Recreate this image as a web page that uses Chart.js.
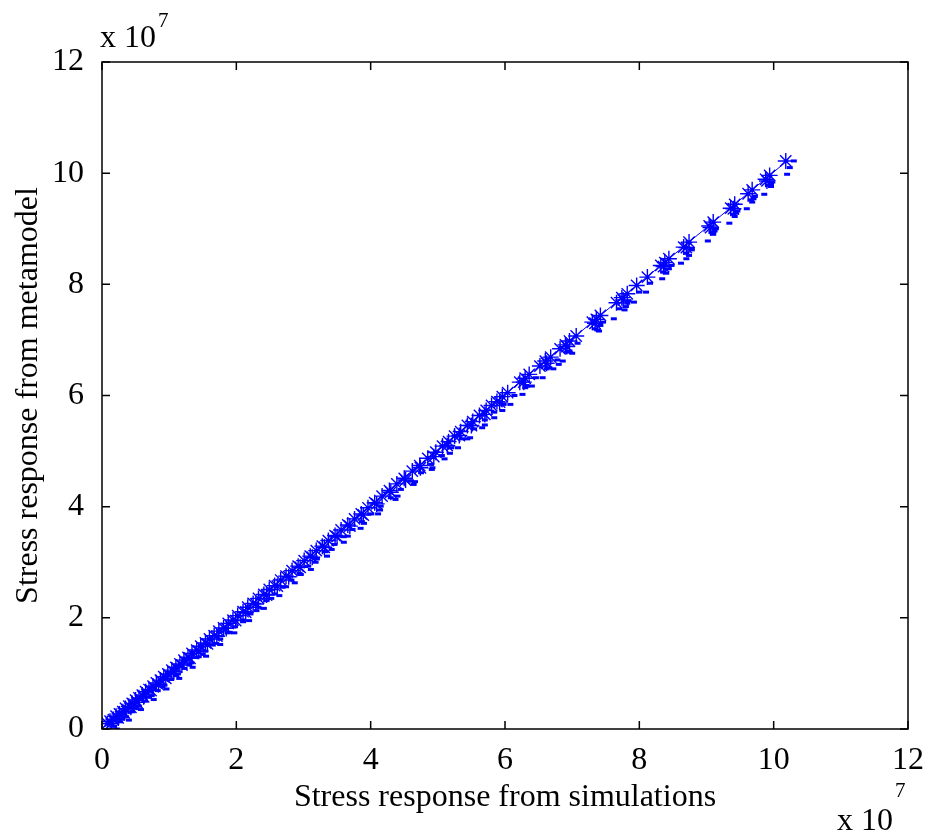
<!DOCTYPE html>
<html>
<head>
<meta charset="utf-8">
<script src="https://cdn.jsdelivr.net/npm/chart.js@4/dist/chart.umd.min.js"></script>
<style>
  html, body { margin: 0; padding: 0; background: #fff; }
  #plot { display: block; }
</style>
</head>
<body>
<canvas id="plot" width="927" height="833"></canvas>
<script>
// --- Data (values in units of 1e7) ---
const axisTicks = [0, 2, 4, 6, 8, 10, 12];

// asterisk markers: simulation vs metamodel
const starSim = [0.08,0.12,0.17,0.21,0.26,0.31,0.35,0.40,0.45,0.50,
  0.55,0.60,0.65,0.70,0.76,0.81,0.87,0.92,0.98,1.04,
  1.10,1.16,1.22,1.28,1.34,1.41,1.47,1.54,1.60,1.67,
  1.74,1.81,1.88,1.95,2.02,2.10,2.17,2.25,2.33,2.41,
  2.49,2.57,2.66,2.74,2.83,2.92,3.01,3.10,3.19,3.28,
  3.37,3.47,3.56,3.66,3.76,3.86,3.96,4.06,4.17,4.28,
  4.39,4.50,4.62,4.73,4.85,4.97,5.07,5.16,5.25,5.34,
  5.44,5.52,5.62,5.72,5.80,5.88,5.96,6.04,6.22,6.30,
  6.36,6.52,6.60,6.68,6.82,6.90,6.96,7.06,7.30,7.36,
  7.42,7.66,7.74,7.82,7.96,8.12,8.32,8.38,8.44,8.66,
  8.74,9.04,9.10,9.36,9.42,9.62,9.68,9.88,9.94,10.18];
const starMeta = [0.10,0.14,0.17,0.23,0.27,0.31,0.37,0.41,0.46,0.52,
  0.56,0.61,0.67,0.71,0.77,0.83,0.88,0.94,0.99,1.06,
  1.11,1.17,1.24,1.29,1.36,1.42,1.49,1.55,1.62,1.68,
  1.76,1.82,1.90,1.96,2.04,2.11,2.19,2.26,2.35,2.42,
  2.51,2.58,2.68,2.75,2.85,2.93,3.03,3.11,3.21,3.29,
  3.39,3.48,3.58,3.67,3.78,3.87,3.98,4.07,4.19,4.29,
  4.41,4.51,4.64,4.74,4.87,4.98,5.09,5.17,5.27,5.35,
  5.46,5.53,5.64,5.73,5.82,5.89,5.98,6.05,6.24,6.31,
  6.38,6.53,6.62,6.69,6.84,6.91,6.98,7.07,7.32,7.37,
  7.44,7.67,7.76,7.83,7.98,8.13,8.34,8.39,8.46,8.67,
  8.76,9.05,9.12,9.37,9.44,9.63,9.70,9.89,9.96,10.22];
const starSimB = [0.14,0.24,0.33,0.43,0.52,0.62,0.73,0.84,0.95,1.07,
  1.19,1.31,1.44,1.57,1.71,1.85,1.99,2.14,2.29,2.45,
  2.61,2.78,2.95,3.13,3.31,3.50,3.69,3.89,4.09,4.30,
  4.52,4.74,4.94,5.14,5.32,5.50,5.70,5.92,6.28,6.62,
  6.92,7.34,7.76,8.36,8.70,9.06,9.40,9.90];
const starMetaB = [0.10,0.20,0.29,0.39,0.48,0.58,0.69,0.80,0.91,1.03,
  1.15,1.27,1.40,1.53,1.67,1.81,1.95,2.10,2.25,2.41,
  2.57,2.74,2.91,3.09,3.27,3.46,3.65,3.85,4.05,4.26,
  4.48,4.70,4.90,5.10,5.28,5.46,5.66,5.88,6.24,6.58,
  6.88,7.30,7.72,8.32,8.66,9.02,9.36,9.86];

// dot markers (four groups)
const dotSimA = [0.18,0.27,0.36,0.45,0.55,0.64,0.74,0.83,0.93,1.03,
  1.13,1.23,1.33,1.44,1.54,1.65,1.76,1.87,1.98,2.10,
  2.21,2.33,2.45,2.57,2.69,2.82,2.94,3.07,3.20,3.33,
  3.46,3.60,3.73,3.87,4.01,4.15,4.30,4.45,4.60,4.75,
  4.90,5.06,5.20,5.36,5.54,5.70,5.84,5.98,6.14,6.32,
  6.46,6.62,6.78,6.92,7.08,7.34,7.46,7.70,7.84,8.00,
  8.16,8.36,8.48,8.70,8.78,9.08,9.14,9.40,9.46,9.66,
  9.72,9.92,9.98,10.30];
const dotMetaA = [0.05,0.13,0.22,0.31,0.41,0.50,0.60,0.69,0.79,0.89,
  0.99,1.09,1.19,1.30,1.40,1.51,1.62,1.73,1.84,1.96,
  2.07,2.19,2.31,2.43,2.55,2.68,2.80,2.93,3.06,3.19,
  3.32,3.46,3.59,3.73,3.87,4.01,4.16,4.31,4.46,4.61,
  4.76,4.92,5.06,5.22,5.40,5.56,5.70,5.84,6.00,6.18,
  6.32,6.48,6.64,6.78,6.94,7.20,7.32,7.56,7.70,7.86,
  8.02,8.22,8.34,8.56,8.64,8.94,9.00,9.26,9.32,9.52,
  9.58,9.78,9.84,10.22];
const dotSimB = [0.22,0.40,0.58,0.77,0.96,1.15,1.35,1.55,1.76,1.97,
  2.19,2.41,2.64,2.87,3.11,3.35,3.60,3.85,4.11,4.37,
  4.64,4.91,5.10,5.30,5.48,5.66,5.84,6.08,6.26,6.56,
  6.72,6.86,7.00,7.40,7.62,7.78,7.92,8.10,8.34,8.62,
  8.70,9.02,9.34,9.60,9.86,10.20];
const dotMetaB = [0.00,0.16,0.35,0.53,0.72,0.91,1.11,1.31,1.52,1.73,
  1.95,2.17,2.40,2.63,2.87,3.11,3.36,3.61,3.87,4.13,
  4.40,4.67,4.86,5.06,5.24,5.42,5.60,5.84,6.02,6.32,
  6.48,6.62,6.76,7.16,7.38,7.54,7.68,7.86,8.10,8.38,
  8.46,8.78,9.10,9.36,9.62,9.98];
const dotSimC = [0.30,0.50,0.70,0.90,1.10,1.30,1.50,1.70,1.90,2.10,
  2.30,2.52,2.74,2.96,3.18,3.42,3.66,3.90,4.14,4.40,
  4.66,4.92,5.18,5.44,5.70,5.96,6.40,6.80,7.38,7.80,
  8.40,8.74,9.10,9.42,9.68,9.96];
const dotMetaC = [0.18,0.37,0.57,0.76,0.96,1.15,1.35,1.54,1.74,1.93,
  2.13,2.35,2.56,2.78,3.00,3.23,3.47,3.70,3.94,4.19,
  4.45,4.70,4.96,5.22,5.47,5.73,6.17,6.56,7.18,7.60,
  8.20,8.52,8.90,9.22,9.48,9.76];
const dotSimD = [6.30,6.66,6.96,7.42,7.82,8.44,8.78,9.12,9.44,9.70,9.96,10.24];
const dotMetaD = [6.14,6.50,6.80,7.26,7.66,8.28,8.62,8.96,9.28,9.54,9.80,10.10];

// reference line end points
const lineX = [0.08, 10.22];
const lineY = [0.10, 10.24];

// --- Helpers ---
const toPoints = (xs, ys) => xs.map((x, i) => ({ x: x, y: ys[i] }));
const FONT = 'Liberation Serif, "Times New Roman", serif';
const FSIZE = 32;
const BLUE = '#0000ff';

// box, inward ticks and exponent labels, MATLAB style
const matlabFrame = {
  id: 'matlabFrame',
  afterDraw(chart) {
    const { ctx, chartArea: a, scales } = chart;
    const tl = 8;
    ctx.save();
    ctx.strokeStyle = '#000';
    ctx.lineWidth = 1.5;
    ctx.strokeRect(a.left, a.top, a.right - a.left, a.bottom - a.top);
    ctx.beginPath();
    axisTicks.forEach(v => {
      const px = scales.x.getPixelForValue(v);
      ctx.moveTo(px, a.bottom); ctx.lineTo(px, a.bottom - tl);
      ctx.moveTo(px, a.top); ctx.lineTo(px, a.top + tl);
      const py = scales.y.getPixelForValue(v);
      ctx.moveTo(a.left, py); ctx.lineTo(a.left + tl, py);
      ctx.moveTo(a.right, py); ctx.lineTo(a.right - tl, py);
    });
    ctx.stroke();

    ctx.fillStyle = '#000';
    ctx.textBaseline = 'alphabetic';
    ctx.textAlign = 'left';
    ctx.font = FSIZE + 'px ' + FONT;
    ctx.fillText('x 10', 100, 47);
    ctx.fillText('x 10', 837, 830);
    ctx.font = '21px ' + FONT;
    ctx.fillText('7', 158, 27);
    ctx.fillText('7', 895, 797);
    ctx.restore();
  }
};

new Chart(document.getElementById('plot'), {
  type: 'scatter',
  data: {
    datasets: [
      {
        label: 'fit',
        type: 'line',
        data: toPoints(lineX, lineY),
        borderColor: BLUE,
        borderWidth: 1,
        pointRadius: 0,
        fill: false
      },
      {
        label: 'metamodel',
        data: toPoints(starSim, starMeta).concat(toPoints(starSimB, starMetaB)),
        pointStyle: 'star',
        pointRadius: 8,
        borderColor: BLUE,
        backgroundColor: BLUE,
        borderWidth: 1.4
      },
      {
        label: 'points',
        data: toPoints(dotSimA, dotMetaA)
          .concat(toPoints(dotSimB, dotMetaB))
          .concat(toPoints(dotSimC, dotMetaC))
          .concat(toPoints(dotSimD, dotMetaD)),
        pointStyle: 'line',
        pointRadius: 3,
        borderColor: BLUE,
        backgroundColor: BLUE,
        borderWidth: 3
      }
    ]
  },
  options: {
    responsive: false,
    animation: false,
    layout: { padding: { left: 0, top: 62, right: 19, bottom: 0 } },
    plugins: {
      legend: { display: false },
      tooltip: { enabled: false }
    },
    scales: {
      x: {
        type: 'linear',
        min: 0, max: 12,
        afterBuildTicks: s => { s.ticks = axisTicks.map(v => ({ value: v })); },
        afterFit: s => { s.height = 104; s.paddingLeft = 0; s.paddingRight = 0; },
        grid: { display: false },
        border: { display: false },
        ticks: { color: '#000', padding: 4, maxRotation: 0, font: { family: FONT, size: FSIZE } },
        title: {
          display: true,
          text: 'Stress response from simulations',
          color: '#000',
          font: { family: FONT, size: FSIZE },
          padding: { top: 0, bottom: 16 }
        }
      },
      y: {
        type: 'linear',
        min: 0, max: 12,
        afterBuildTicks: s => { s.ticks = axisTicks.map(v => ({ value: v })); },
        afterFit: s => { s.width = 102; s.paddingTop = 0; s.paddingBottom = 0; },
        grid: { display: false },
        border: { display: false },
        ticks: { color: '#000', padding: 10, font: { family: FONT, size: FSIZE } },
        title: {
          display: true,
          text: 'Stress response from metamodel',
          color: '#000',
          font: { family: FONT, size: FSIZE },
          padding: { top: 9, bottom: 0 }
        }
      }
    }
  },
  plugins: [matlabFrame]
});
</script>
</body>
</html>
